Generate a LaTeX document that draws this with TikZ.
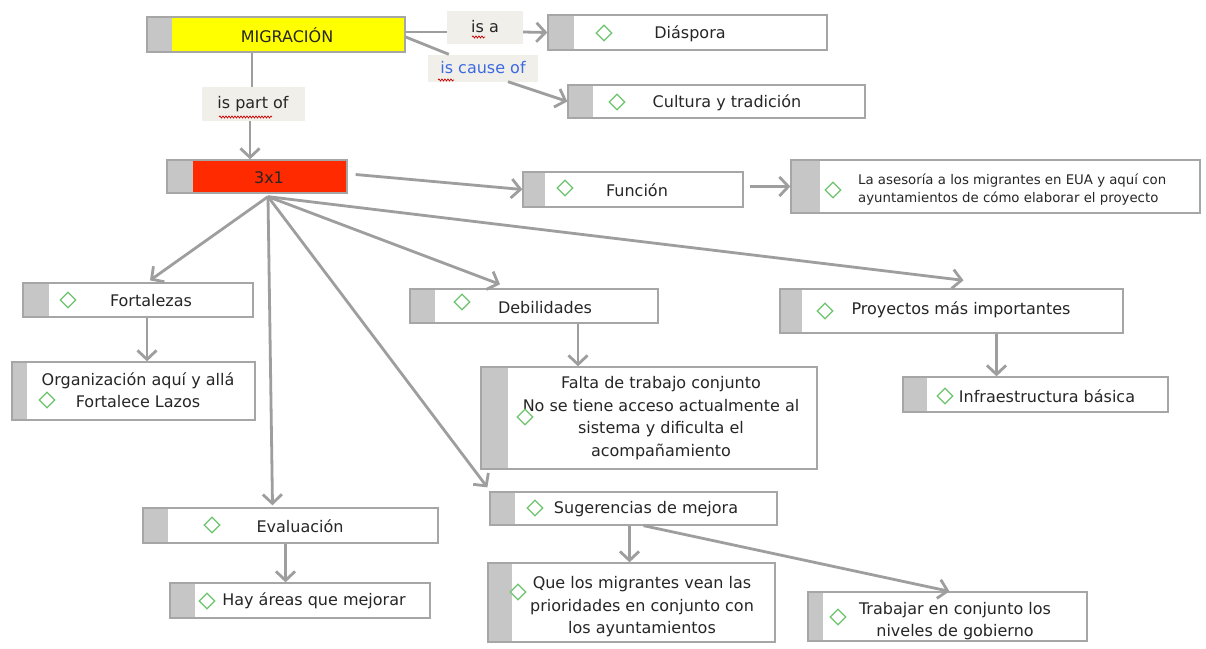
\documentclass[tikz,border=0pt]{standalone}
\usepackage{fontspec}
\setmainfont{DejaVu Sans}
\usetikzlibrary{shapes.geometric,arrows.meta,fit,calc,decorations.pathmorphing}
\definecolor{boxline}{HTML}{A6A6A6}
\definecolor{stripg}{HTML}{C6C6C6}
\definecolor{lineg}{HTML}{9E9E9E}
\definecolor{dgreen}{HTML}{6CC46C}
\definecolor{textc}{HTML}{262626}
\definecolor{lblbg}{HTML}{F0EFEA}
\definecolor{migy}{HTML}{FFFF00}
\definecolor{redbox}{HTML}{FF2A00}
\definecolor{bluet}{HTML}{3D6AE0}
\newcommand\cbox[6]{\node[cbox=#6, fit={(#2,#3) (#4,#5)}] (#1) {};}
\begin{document}
\begin{tikzpicture}[x=1pt,y=-1pt,
  cbox/.style={draw=boxline, line width=1.3pt, fill=white, inner sep=0pt, rectangle,
    path picture={\fill[stripg] (path picture bounding box.north west) rectangle ([xshift=#1]path picture bounding box.south west);}},
  dmd/.style={diamond, draw=dgreen, line width=1.3pt, fill=white, minimum width=16pt, minimum height=16pt, inner sep=0pt},
  txt/.style={font=\fontsize{16}{22.5}\selectfont, text=textc, inner sep=0pt, align=center},
  small/.style={font=\fontsize{13.3}{18}\selectfont, text=textc, inner sep=0pt, align=left},
  lbl/.style={fill=lblbg, inner sep=0pt, font=\fontsize{16}{18}\selectfont, text=textc},
  conn/.style={draw=lineg, line width=2.8pt},
  arr/.style={conn, -{Straight Barb[length=9pt,width=19pt]}},
  squig/.style={draw=red!80!black, line width=0.7pt, decorate, decoration={snake, amplitude=1pt, segment length=3pt}}
]
\useasboundingbox[fill=white] (0,0) rectangle (1206,648);

% boxes
\cbox{mig}{147}{17}{405}{52}{25pt}
\fill[migy] (172,17.7) rectangle (404.3,51.3);
\cbox{dia}{548}{15}{827}{50}{26pt}
\cbox{cul}{568}{85}{865}{118}{25pt}
\cbox{xtu}{167}{160}{347}{193}{26pt}
\fill[redbox] (193,160.7) rectangle (346.3,192.3);
\cbox{fun}{523}{172}{743}{207}{22pt}
\cbox{ase}{791}{160}{1200}{213}{29pt}
\cbox{fort}{23}{283}{253}{317}{26pt}
\cbox{org}{12}{362}{255}{420}{15pt}
\cbox{deb}{410}{289}{658}{323}{25pt}
\cbox{fal}{481}{367}{817}{469}{27pt}
\cbox{proy}{780}{289}{1123}{333}{22pt}
\cbox{inf}{903}{377}{1168}{412}{24pt}
\cbox{eva}{143}{508}{438}{543}{25pt}
\cbox{hay}{170}{583}{430}{618}{25pt}
\cbox{sug}{490}{492}{777}{525}{25pt}
\cbox{que}{488}{563}{775}{642}{24pt}
\cbox{tra}{808}{592}{1087}{641}{15pt}

% texts
\node[txt] (mig-t) at (287,35) {MIGRACIÓN};
\node[txt] (xtu-t) at (269,178) {3x1};
\node[dmd] (dia-d) at (604,33) {};
\node[txt] (dia-t) at (690,34) {Diáspora};
\node[dmd] (cul-d) at (617,102) {};
\node[txt] (cul-t) at (727,103) {Cultura y tradición};
\node[dmd] (fun-d) at (565,188) {};
\node[txt] (fun-t) at (637,190) {Función};
\node[dmd] (ase-d) at (833,190) {};
\node[small, anchor=west] (ase-t) at (858,190) {La asesoría a los migrantes en EUA y aquí con\\ayuntamientos de cómo elaborar el proyecto};
\node[dmd] (fort-d) at (68,300) {};
\node[txt] (fort-t) at (151,301) {Fortalezas};
\node[txt] (org-t) at (138,390) {Organización aquí y allá\\Fortalece Lazos};
\node[dmd] (org-d) at (47,400) {};
\node[dmd] (deb-d) at (462,302) {};
\node[txt] (deb-t) at (545,308) {Debilidades};
\node[txt] (fal-t) at (661,418) {Falta de trabajo conjunto\\No se tiene acceso actualmente al\\sistema y dificulta el\\acompañamiento};
\node[dmd] (fal-d) at (525,417) {};
\node[dmd] (proy-d) at (825,311) {};
\node[txt] (proy-t) at (961,310) {Proyectos más importantes};
\node[dmd] (inf-d) at (945,396) {};
\node[txt] (inf-t) at (1047,396) {Infraestructura básica};
\node[dmd] (eva-d) at (212,525) {};
\node[txt] (eva-t) at (300,526) {Evaluación};
\node[dmd] (hay-d) at (207,601) {};
\node[txt] (hay-t) at (314,601) {Hay áreas que mejorar};
\node[dmd] (sug-d) at (535,508) {};
\node[txt] (sug-t) at (646,509) {Sugerencias de mejora};
\node[dmd] (que-d) at (518,592) {};
\node[txt] (que-t) at (642,607) {Que los migrantes vean las\\prioridades en conjunto con\\los ayuntamientos};
\node[dmd] (tra-d) at (838,617) {};
\node[txt] (tra-t) at (955,621) {Trabajar en conjunto los\\niveles de gobierno};

% link labels
\node[lbl, minimum width=76pt, minimum height=33pt] (isa) at (485,27) {is a};
\node[lbl, minimum width=110pt, minimum height=27pt, text=bluet] (isc) at (483,68) {is cause of};
\node[lbl, minimum width=103pt, minimum height=34pt] (pof) at (253,104) {is part of};
\draw[squig] (472,37) -- (485,37);
\draw[squig] (438,80) -- (454,80);
\draw[squig] (219,117) -- (272,117);

% connectors
\draw[conn] ([yshift=2.5pt]mig.east) -- ([yshift=-5pt]isa.west);
\draw[arr] ([yshift=-5pt]isa.east) -- (dia.west);
\draw[conn] ([yshift=-2.5pt]mig.east) -- (isc);
\draw[arr] ([xshift=25pt]isc.south) -- (cul.west);
\draw[conn] ([xshift=-24pt]mig.south) -- ([xshift=-24pt]mig.south |- pof.north);
\draw[arr] ([xshift=-3pt]pof.south) -- ([xshift=-3pt]pof.south |- xtu.north);
\draw[arr] ([xshift=8pt,yshift=2pt]xtu.east) -- (fun.west);
\draw[arr] ([xshift=6pt,yshift=3pt]fun.east) -- (ase.west);
\coordinate (hub) at ($(xtu.south)+(11,3)$);
\draw[arr] (hub) -- ([xshift=12pt,yshift=2pt]fort.north);
\draw[arr] (hub) -- ([xshift=-18pt,yshift=2pt]eva.north);
\draw[arr] (hub) -- ([xshift=-2pt,yshift=4pt]sug.north west);
\draw[arr] (hub) -- ([xshift=-34pt,yshift=4pt]deb.north);
\draw[arr] (hub) -- ([xshift=12pt,yshift=8pt]proy.north);
\draw[arr] ([xshift=9pt]fort.south) -- ([xshift=9pt]fort.south |- org.north);
\draw[arr] ([xshift=44pt]deb.south) -- ([xshift=44pt]deb.south |- fal.north);
\draw[arr] ([xshift=45pt]proy.south) -- ([xshift=45pt]proy.south |- inf.north);
\draw[arr] ([xshift=-5pt]eva.south) -- ([xshift=-5pt]eva.south |- hay.north);
\draw[arr] ([xshift=-4pt]sug.south) -- ([xshift=-4pt]sug.south |- que.north);
\draw[arr] ([xshift=10pt]sug.south) -- ([xshift=2pt]tra.north);
\end{tikzpicture}
\end{document}
